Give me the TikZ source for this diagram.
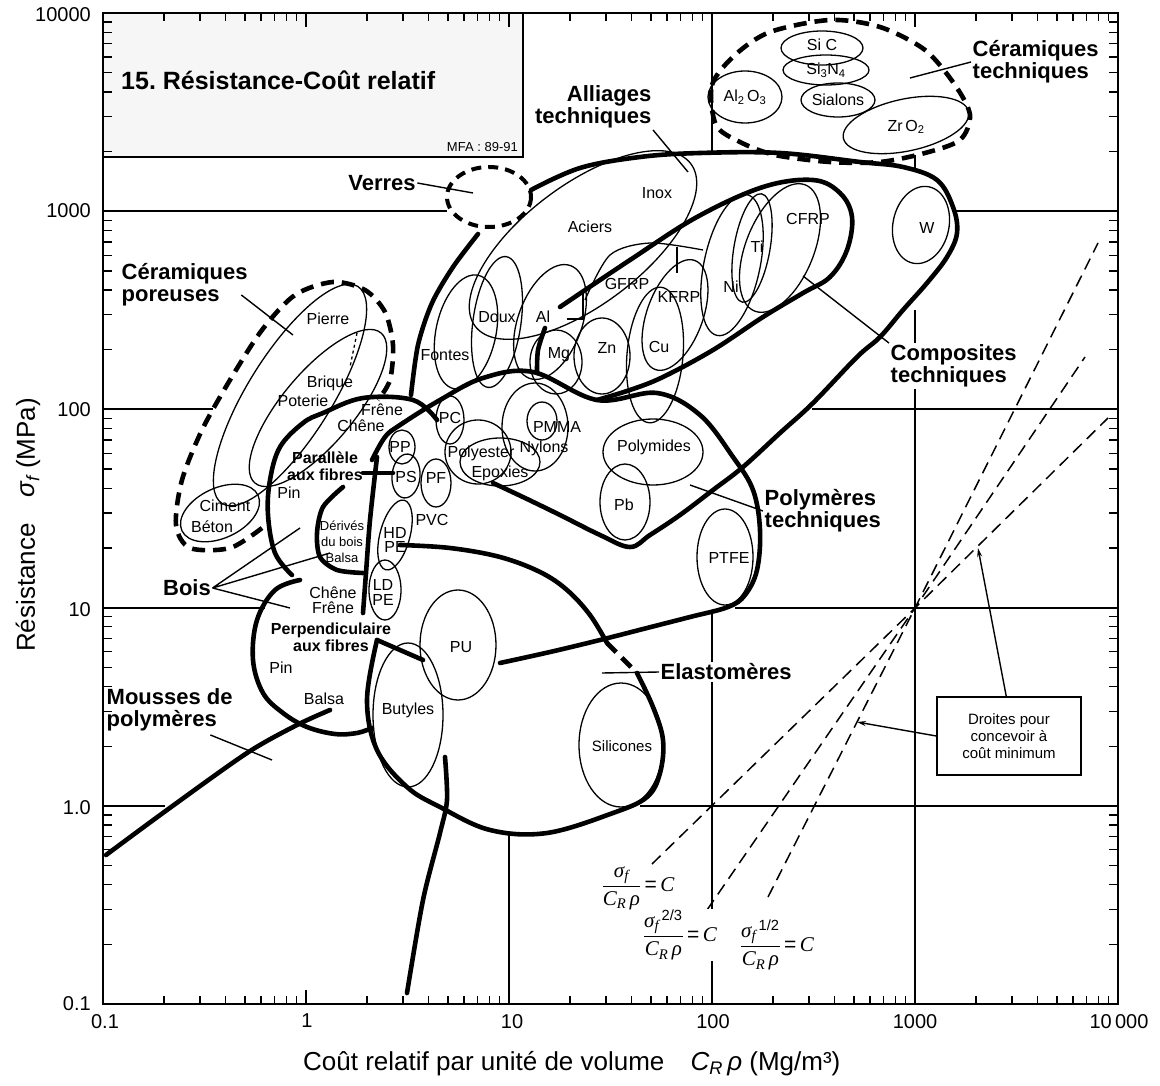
\documentclass[tikz,border=0pt]{standalone}
\usepackage{fontspec}
\setmainfont{Liberation Sans}
\newfontfamily\fserif{Liberation Serif}
\usetikzlibrary{arrows.meta}
\frenchspacing
\newcommand\myfs[1]{\fontsize{#1}{#1}\selectfont}
\newcommand\sgf{{\fserif\itshape σ}\textsubscript{\fserif\itshape f}}
\newcommand\crr{{\fserif\itshape C}\textsubscript{\fserif\itshape R}\,{\fserif\itshape ρ}}
\newcommand\myfrac[2]{$\displaystyle\frac{\mbox{#1}}{\mbox{#2}}$}
\begin{document}
\begin{tikzpicture}[x=1pt,y=-1pt,
  thk/.style={line width=4.6pt,line cap=round,line join=round},
  thn/.style={line width=1.3pt},
  dsh/.style={line width=4.6pt,dash pattern=on 13pt off 8pt},
  grd/.style={line width=1.4pt},
  ldr/.style={line width=1.4pt},
  tick/.style={line width=1.3pt},
  grp/.style={font=\bfseries\fontsize{22}{22}\selectfont,align=left,inner sep=1.5pt,fill=white},
  sub/.style={font=\bfseries\fontsize{16}{17}\selectfont,align=center,inner sep=0pt},
  sm/.style={font=\myfs{16},inner sep=0pt},
  tiny/.style={font=\fontsize{13}{16}\selectfont,align=center,inner sep=0pt},
  num/.style={font=\myfs{20},inner sep=1pt},
  frm/.style={font=\myfs{21},inner sep=1pt}]
\useasboundingbox (0,0) rectangle (1160,1086);
\fill[white] (0,0) rectangle (1160,1086);

% title panel
\draw[grd,fill=gray!7] (103,13) rectangle (523,157);
\node[anchor=west,font=\bfseries\myfs{25},inner sep=0pt] (title) at (121,80) {15. Résistance-Coût relatif};
\node[anchor=east,font=\myfs{13},inner sep=0pt] (mfa) at (518,147) {MFA : 89-91};

% grid segments left between the envelopes
\draw[grd] (103,211) -- (447,211) (955,211) -- (1118,211);
\draw[grd] (103,409) -- (213,409) (812,409) -- (1118,409);
\draw[grd] (103,608) -- (265,608) (735,608) -- (1118,608);
\draw[grd] (103,806) -- (165,806) (640,806) -- (1118,806);
\draw[grd] (509,835) -- (509,1004);
\draw[grd] (712,13) -- (712,153) (712,612) -- (712,1004);
\draw[grd] (915,155) -- (915,172) (915,310) -- (915,1004);

% log ticks
\foreach \n in {0,...,4}{
  \foreach \k in {2,...,9}{
    \pgfmathsetmacro\tx{103+203*(\n+log10(\k))}
    \pgfmathsetmacro\ty{1004-198.2*(\n+log10(\k))}
    \draw[tick] (\tx,1004) -- (\tx,996) (\tx,13) -- (\tx,21);
    \draw[tick] (103,\ty) -- (112,\ty) (1118,\ty) -- (1109,\ty);
  }
}
\foreach \n in {1,...,4}{
  \pgfmathsetmacro\tx{103+203*\n}
  \pgfmathsetmacro\ty{1004-198.2*\n}
  \draw[tick] (\tx,1004) -- (\tx,990) (\tx,13) -- (\tx,27);
  \draw[tick] (103,\ty) -- (117,\ty) (1118,\ty) -- (1104,\ty);
}
\draw[line width=2pt] (103,13) rectangle (1118,1004);

% material bubbles
\foreach \cx/\cy/\rx/\ry/\a in {
  822/48/41/17/0, 826/70/43/15/0, 838/100/37/17/0, 745/97/37/26/0, 906/125/64/26/12,
  583/245/135/60/37, 497/322/24/66/-8, 466/332/30/58/-12, 550/322/32/60/-20,
  556/362/26/32/0, 602/356/28/38/0, 655/355/28/68/-5, 675/315/28/58/-20,
  732/265/28/72/-12, 752/248/18/55/-10, 780/248/34/68/-22, 921/225/28/39/-12,
  450/420/14/24/0, 402/447/13/17/0, 406/476/14/22/-5, 436/483/15/24/0,
  478/452/33/32/0, 500/462/40/24/0, 535/427/33/44/0, 542/421/15/19/0,
  395/535/15/36/-15, 385/590/16/30/0,
  653/452/50/33/0, 625/502/25/38/0, 725/557/28/48/0,
  458/645/38/55/0, 408/715/35/72/0, 621/745/42/62/0,
  290/395/128/42/58, 318/408/98/36/50, 220/513/42/25/25}
  \draw[thn,rotate around={\a:(\cx,\cy)}] (\cx,\cy) ellipse [x radius=\rx,y radius=\ry];
\draw[thn] plot[smooth] coordinates {(585,300) (610,255) (650,243) (703,250)};
\draw[thn] (677,247) -- (677,273);
\draw[thn] (567,319) -- (583,319) -- (583,290);
\draw[thn,dashed] (357,333) -- (350,367);

% envelopes
\draw[thk] plot[smooth] coordinates {(411,395) (418,345) (432,303) (453,267) (478,234)};
\draw[thk] plot[smooth,tension=0.6] coordinates {(531,190) (580,168) (640,157) (700,153) (780,153)
  (860,162) (903,167) (937,180) (953,207) (957,233) (947,257) (927,283) (903,310) (880,337)
  (857,357) (813,403) (780,433) (743,467) (713,490) (680,515) (650,535) (630,547) (600,535)
  (560,515) (525,498) (493,483)};
\draw[thk] plot[smooth,tension=0.6] coordinates {(560,307) (630,260) (697,217) (763,187) (813,180)
  (840,193) (852,217) (847,250) (830,277) (803,293) (763,317) (713,350) (663,377) (630,390)
  (597,400)};
\draw[thk] plot[smooth,tension=0.6] coordinates {(372,460) (385,437) (400,425) (440,400) (483,378)
  (533,372) (597,400) (657,393) (700,415) (733,457) (753,490) (760,530) (757,570) (745,595)
  (728,607) (690,617) (647,628) (600,640) (550,652) (500,663)};
\draw[thk] plot[smooth,tension=0.6] coordinates {(292,575) (275,553) (268,515) (270,480) (280,447)
  (303,423) (323,413) (363,398) (413,400) (437,420)};
\draw[thk] plot[smooth] coordinates {(343,487) (323,507) (317,533) (320,557) (337,570) (363,573)};
\draw[thk] plot[smooth] coordinates {(377,457) (370,520) (366,573) (363,613)};
\draw[thk] (363,473) -- (393,473);
\draw[thk] plot[smooth,tension=0.6] coordinates {(300,580) (275,590) (257,620) (253,660) (263,693)
  (283,713) (307,727) (335,734) (357,733) (372,728)};
\draw[thk] plot[smooth] coordinates {(545,328) (538,350) (537,373)};
\draw[thk] plot[smooth,tension=0.6] coordinates {(400,545) (450,548) (500,557) (540,572) (567,590)
  (590,615) (607,643)};
\draw[dsh] (607,643) -- (637,673);
\draw[thk] plot[smooth,tension=0.6] coordinates {(637,673) (653,707) (663,740) (660,773) (647,797)
  (613,813) (547,833) (490,830) (440,807) (407,787) (377,750) (367,700) (377,640)};
\draw[thk] (377,640) -- (423,660);
\draw[thk] plot[smooth] coordinates {(106,855) (167,810) (247,753) (297,725) (330,710)};
\draw[thk] plot[smooth] coordinates {(445,757) (447,800) (440,833) (423,900) (407,993)};
\draw[dsh] plot[smooth] coordinates {(262,528) (230,548) (190,548) (176,525) (182,480) (202,430)
  (230,380) (262,330) (295,295) (333,282) (365,290) (385,312) (393,345) (390,380) (378,400)};
\draw[dsh] plot[smooth cycle] coordinates {(716,125) (712,85) (735,55) (770,32) (830,20) (880,27)
  (925,50) (955,85) (970,115) (960,140) (925,153) (880,162) (830,162) (775,155) (740,142)};
\draw[line width=4pt,dash pattern=on 10pt off 7pt] (489,197) ellipse [x radius=42,y radius=30];

% design guide lines through (1000, 10)
\coordinate (pivot) at (915,608);
\draw[line width=1.5pt,dash pattern=on 12pt off 7pt] (652,864) -- (pivot) -- (1108,418);
\draw[line width=1.5pt,dash pattern=on 12pt off 7pt] (707,910) -- (pivot) -- (1085,357);
\draw[line width=1.5pt,dash pattern=on 12pt off 7pt] (768,897) -- (pivot) -- (1098,243);
\node[frm] (f1) at (638,888) {\myfrac{\sgf}{\crr}\,=\,{\fserif\itshape C}};
\node[frm,fill=white] (f2) at (680,935) {\myfrac{\sgf\textsuperscript{\,2/3}}{\crr}\,=\,{\fserif\itshape C}};
\node[frm] (f3) at (777,945) {\myfrac{\sgf\textsuperscript{\,1/2}}{\crr}\,=\,{\fserif\itshape C}};
\node[draw,line width=1.5pt,fill=white,font=\myfs{15},align=center,inner sep=4pt,
  minimum width=144pt,minimum height=78pt] (droites) at (1009,736)
  {Droites pour\\[2pt]concevoir à\\[2pt]coût minimum};
\coordinate (dA) at (978,548);
\coordinate (dB) at (857,722);
\draw[ldr,-{Stealth[length=9pt,width=5pt]}] (droites.north west) ++(70,0) -- (dA);
\draw[ldr,-{Stealth[length=9pt,width=5pt]}] (droites.west) -- (dB);

% group labels and leaders
\node[grp,fill=none] (verres) at (382,183) {Verres};
\coordinate (verresT) at (473,193);
\draw[ldr] (verres.east) -- (verresT);
\node[grp,align=right,anchor=east] (alliages) at (653,107) {Alliages\\techniques};
\coordinate (alliagesT) at (688,172);
\draw[ldr] (alliages.south east) -- (alliagesT);
\node[grp,anchor=west] (certech) at (971,62) {Céramiques\\techniques};
\coordinate (certechT) at (910,78);
\draw[ldr] (certech.west) -- (certechT);
\node[grp,anchor=west] (cerpor) at (120,285) {Céramiques\\poreuses};
\coordinate (cerporT) at (293,335);
\draw[ldr] (cerpor.east) ++(-8,10) coordinate (cerporS) -- (cerporT);
\node[grp,anchor=west] (compo) at (889,366) {Composites\\techniques};
\coordinate (compoT) at (803,276);
\draw[ldr] (compo.north west) -- (compoT);
\node[grp,anchor=west] (polyt) at (763,511) {Polymères\\techniques};
\coordinate (polytT) at (690,485);
\draw[ldr] (polyt.west) -- (polytT);
\node[grp,anchor=west] (elast) at (659,672) {Elastomères};
\coordinate (elastT) at (602,673);
\draw[ldr] (elast.west) -- (elastT);
\node[grp,fill=none] (bois) at (187,588) {Bois};
\coordinate (boisA) at (300,528);
\coordinate (boisB) at (330,553);
\coordinate (boisC) at (290,608);
\draw[ldr] (bois.east) -- (boisA) (bois.east) -- (boisB) (bois.east) -- (boisC);
\node[grp,fill=none,anchor=west] (mousses) at (105,710) {Mousses de\\polymères};
\coordinate (moussesT) at (272,760);
\draw[ldr] (mousses.south east) ++(-24,2) coordinate (moussesS) -- (moussesT);
\node[sub] (para) at (325,466) {Parallèle\\aux fibres};
\node[sub] (perp) at (331,637) {Perpendiculaire\\aux fibres};

% material names
\node[sm] (pierre) at (328,319) {Pierre};
\node[sm] (brique) at (330,383) {Brique};
\node[sm] (poterie) at (303,401) {Poterie};
\node[sm] (ciment) at (225,506) {Ciment};
\node[sm] (beton) at (212,527) {Béton};
\node[sm] (frene) at (382,410) {Frêne};
\node[sm] (chene) at (361,426) {Chêne};
\node[sm] (pina) at (289,493) {Pin};
\node[tiny] (derives) at (342,542) {Dérivés\\du bois\\Balsa};
\node[sm,align=center,font=\fontsize{16}{15}\selectfont] (chenefr) at (333,600) {Chêne\\Frêne};
\node[sm] (pinb) at (281,668) {Pin};
\node[sm] (balsa) at (324,699) {Balsa};
\node[sm] (fontes) at (445,355) {Fontes};
\node[sm] (doux) at (497,317) {Doux};
\node[sm] (aciers) at (590,227) {Aciers};
\node[sm] (inox) at (657,193) {Inox};
\node[sm] (al) at (543,317) {Al};
\node[sm] (mg) at (559,355) {Mg};
\node[sm] (zn) at (607,348) {Zn};
\node[sm] (cu) at (659,347) {Cu};
\node[sm] (gfrp) at (627,284) {GFRP};
\node[sm] (kfrp) at (679,297) {KFRP};
\node[sm] (ni) at (731,287) {Ni};
\node[sm] (ti) at (757,247) {Ti};
\node[sm] (cfrp) at (808,219) {CFRP};
\node[sm] (w) at (927,228) {W};
\node[sm] (pc) at (450,418) {PC};
\node[sm] (pp) at (400,447) {PP};
\node[sm] (ps) at (406,477) {PS};
\node[sm] (pf) at (436,478) {PF};
\node[sm] (polyester) at (481,453) {Polyester};
\node[sm] (epoxies) at (500,473) {Epoxies};
\node[sm] (nylons) at (544,448) {Nylons};
\node[sm] (pmma) at (557,427) {PMMA};
\node[sm] (pvc) at (432,520) {PVC};
\node[sm,align=center,font=\fontsize{16}{14}\selectfont] (hdpe) at (395,540) {HD\\PE};
\node[sm,align=center,font=\fontsize{16}{15}\selectfont] (ldpe) at (383,592) {LD\\PE};
\node[sm] (polymides) at (654,447) {Polymides};
\node[sm] (pb) at (624,505) {Pb};
\node[sm] (ptfe) at (729,558) {PTFE};
\node[sm] (pu) at (461,647) {PU};
\node[sm] (butyles) at (408,710) {Butyles};
\node[sm,font=\myfs{15}] (silicones) at (622,746) {Silicones};
\node[sm] (sic) at (822,45) {Si C};
\node[sm] (sin) at (826,70) {Si\textsubscript{3}N\textsubscript{4}};
\node[sm] (sialons) at (838,100) {Sialons};
\node[sm] (alo) at (745,97) {Al\textsubscript{2}\,O\textsubscript{3}};
\node[sm] (zro) at (906,127) {Zr\,O\textsubscript{2}};

% axes numbering and titles
\foreach \v/\yy in {10000/15,1000/211,100/410,10/610,1.0/808,0.1/1004}
  \node[num,anchor=east] (y\yy) at (92,\yy) {\v};
\foreach \v/\xx in {0.1/105,1/307,10/512,100/713,1000/915,10\,000/1119}
  \node[num,anchor=north] (x\xx) at (\xx,1013) {\v};
\node[font=\myfs{26},anchor=west,inner sep=0pt] (xtitle) at (303,1064)
  {Coût relatif par unité de volume\quad {\itshape C}\textsubscript{\itshape R}\,{\itshape ρ} (Mg/m³)};
\node[font=\myfs{26},rotate=90,inner sep=0pt] (ytitle) at (28,525)
  {Résistance\quad {\itshape σ}\textsubscript{\itshape f} (MPa)};
\end{tikzpicture}
\end{document}
